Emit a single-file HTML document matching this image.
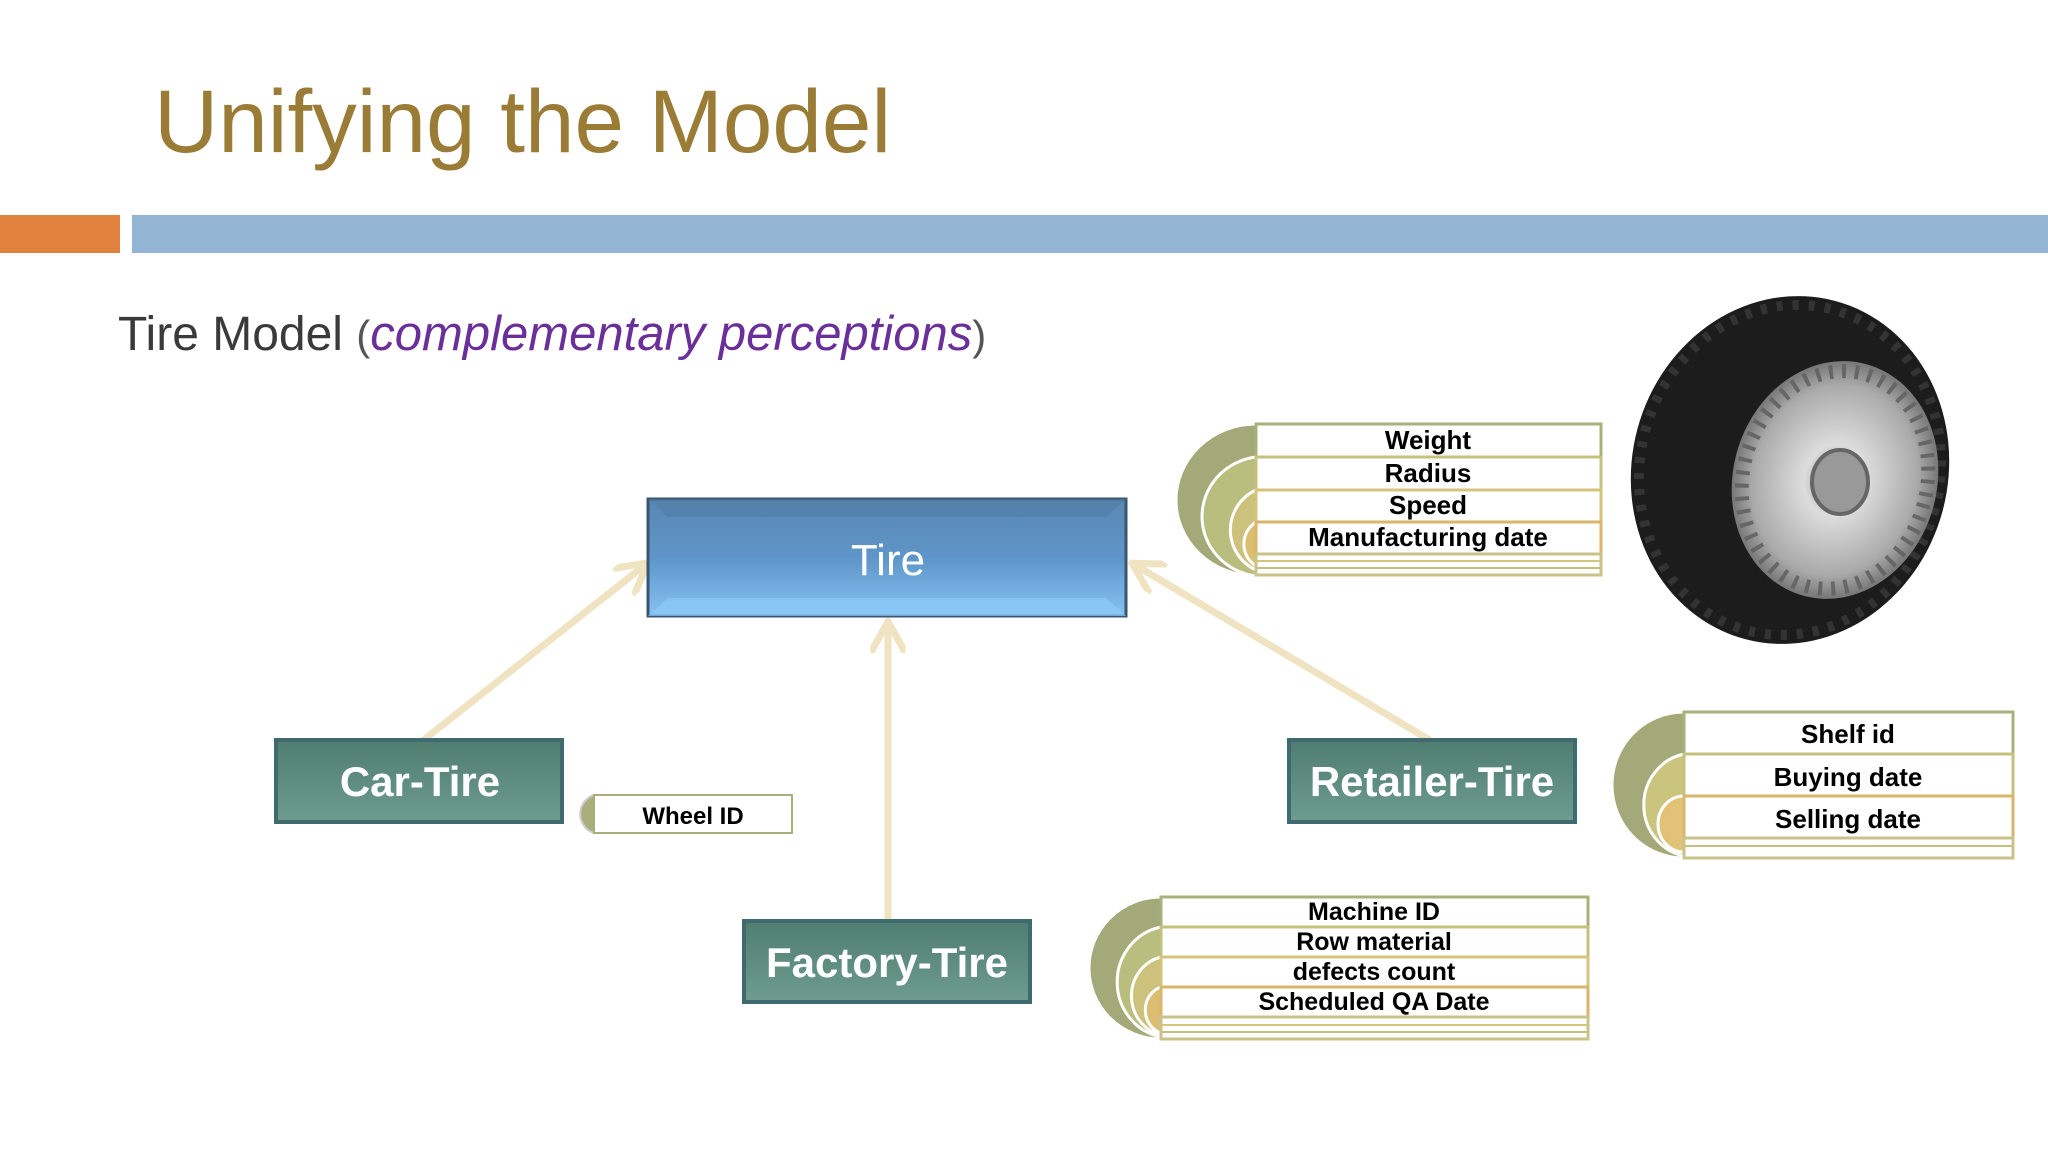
<!DOCTYPE html>
<html><head><meta charset="utf-8"><style>
html,body{margin:0;padding:0;background:#fff;}
svg{display:block;font-family:"Liberation Sans",sans-serif;}
</style></head><body>
<svg width="2048" height="1155" viewBox="0 0 2048 1155" xmlns="http://www.w3.org/2000/svg">
<defs>
<linearGradient id="tg" x1="0" y1="0" x2="0" y2="1"><stop offset="0" stop-color="#5a88b2"/><stop offset="0.5" stop-color="#5e95c8"/><stop offset="1" stop-color="#86c2f2"/></linearGradient>
<linearGradient id="gg" x1="0" y1="0" x2="0" y2="1"><stop offset="0" stop-color="#4f7d70"/><stop offset="0.5" stop-color="#5e8d80"/><stop offset="1" stop-color="#6e9d8f"/></linearGradient>
<radialGradient id="rim" cx="0.5" cy="0.5" r="0.5"><stop offset="0" stop-color="#888"/><stop offset="0.3" stop-color="#ddd"/><stop offset="0.8" stop-color="#aaa"/><stop offset="1" stop-color="#777"/></radialGradient>
<marker id="ah" viewBox="0 0 10 10" refX="8" refY="5" markerWidth="5" markerHeight="5" orient="auto"><path d="M0,0 L9,5 L0,10" fill="none" stroke="#efe3c2" stroke-width="2"/></marker>
</defs>
<text x="154" y="152" font-size="89" fill="#9a7c36">Unifying the Model</text>
<rect x="0" y="215" width="120" height="38" fill="#e0823e"/>
<rect x="132" y="215" width="1916" height="38" fill="#93b4d2"/>
<text x="118" y="350" font-size="48" fill="#3a3a3a">Tire Model <tspan fill="#555" font-size="42">(</tspan><tspan fill="#6b2f9a" font-style="italic" font-size="49">complementary perceptions</tspan><tspan fill="#555" font-size="42">)</tspan></text>

<g stroke="#efe3c2" stroke-width="7" fill="none" stroke-linecap="round">
<line x1="421" y1="742" x2="645" y2="565" marker-end="url(#ah)"/>
<line x1="888" y1="921" x2="888" y2="625" marker-end="url(#ah)"/>
<line x1="1433" y1="742" x2="1135" y2="565" marker-end="url(#ah)"/>
</g>

<rect x="648" y="499" width="478" height="117" fill="url(#tg)" stroke="#3a5670" stroke-width="3"/>
<path d="M648,499 L668,517 L1106,517 L1126,499Z" fill="#4f7da5" opacity="0.6"/>
<path d="M648,616 L668,598 L1106,598 L1126,616Z" fill="#8ccaf8" opacity="0.7"/>
<text x="888" y="575" font-size="44" fill="#fff" text-anchor="middle">Tire</text>

<g font-weight="bold" font-size="42" fill="#fff" text-anchor="middle">
<rect x="276" y="740" width="286" height="82" fill="url(#gg)" stroke="#3e6a70" stroke-width="4"/>
<text x="420" y="796">Car-Tire</text>
<rect x="744" y="921" width="286" height="81" fill="url(#gg)" stroke="#3e6a70" stroke-width="4"/>
<text x="887" y="977">Factory-Tire</text>
<rect x="1289" y="740" width="286" height="82" fill="url(#gg)" stroke="#3e6a70" stroke-width="4"/>
<text x="1432" y="796">Retailer-Tire</text>
</g>

<path d="M594,795 A20,20 0 0 0 594,833 Z" fill="#a9ae7a" stroke="#ccc" stroke-width="2"/>
<rect x="594" y="795" width="198" height="38" fill="#fff" stroke="#a9ae7a" stroke-width="2"/>
<text x="693" y="824" font-size="24" font-weight="bold" text-anchor="middle">Wheel ID</text>

<g>
<path d="M1256,424 A80,76 0 0 0 1256,576 Z" fill="#a3a978" stroke="#fff" stroke-width="3"/>
<path d="M1256,457 A62,60 0 0 0 1256,576 Z" fill="#b9bd7e" stroke="#fff" stroke-width="3"/>
<path d="M1256,490 A44,44 0 0 0 1256,570 Z" fill="#cdc27c" stroke="#fff" stroke-width="3"/>
<path d="M1256,522 A26,26 0 0 0 1256,566 Z" fill="#dbbe72" stroke="#fff" stroke-width="3"/>
<g fill="#fff" stroke-width="3">
<rect x="1256" y="424" width="345" height="33" stroke="#aab07c"/>
<rect x="1256" y="457" width="345" height="33" stroke="#c4c17e"/>
<rect x="1256" y="490" width="345" height="32" stroke="#d4c47c"/>
<rect x="1256" y="522" width="345" height="32" stroke="#d9b66a"/>
<rect x="1256" y="554" width="345" height="21" stroke="#c9c38a"/>
</g>
<line x1="1256" y1="561" x2="1601" y2="561" stroke="#d4c47c" stroke-width="2"/>
<line x1="1256" y1="568" x2="1601" y2="568" stroke="#c4c17e" stroke-width="2"/>
<g font-size="26" font-weight="bold" text-anchor="middle">
<text x="1428" y="449">Weight</text><text x="1428" y="482">Radius</text><text x="1428" y="514">Speed</text><text x="1428" y="546">Manufacturing date</text>
</g>
</g>

<g>
<path d="M1684,712 A72,73 0 0 0 1684,858 Z" fill="#a3a978" stroke="#fff" stroke-width="3"/>
<path d="M1684,754 A50,52 0 0 0 1684,856 Z" fill="#cbc47e" stroke="#fff" stroke-width="3"/>
<path d="M1684,796 A26,28 0 0 0 1684,852 Z" fill="#e2c276" stroke="#fff" stroke-width="3"/>
<g fill="#fff" stroke-width="3">
<rect x="1684" y="712" width="329" height="42" stroke="#aab07c"/>
<rect x="1684" y="754" width="329" height="42" stroke="#c4c17e"/>
<rect x="1684" y="796" width="329" height="42" stroke="#d9b66a"/>
<rect x="1684" y="838" width="329" height="20" stroke="#c9c38a"/>
</g>
<line x1="1684" y1="846" x2="2013" y2="846" stroke="#c4c17e" stroke-width="2"/>
<g font-size="26" font-weight="bold" text-anchor="middle">
<text x="1848" y="743">Shelf id</text><text x="1848" y="786">Buying date</text><text x="1848" y="828">Selling date</text>
</g>
</g>

<g>
<path d="M1161,897 A72,71 0 0 0 1161,1039 Z" fill="#a3a978" stroke="#fff" stroke-width="3"/>
<path d="M1161,927 A54,56 0 0 0 1161,1037 Z" fill="#b9bd7e" stroke="#fff" stroke-width="3"/>
<path d="M1161,957 A38,40 0 0 0 1161,1035 Z" fill="#cdc27c" stroke="#fff" stroke-width="3"/>
<path d="M1161,987 A22,24 0 0 0 1161,1033 Z" fill="#dbbe72" stroke="#fff" stroke-width="3"/>
<g fill="#fff" stroke-width="3">
<rect x="1161" y="897" width="427" height="30" stroke="#aab07c"/>
<rect x="1161" y="927" width="427" height="30" stroke="#c4c17e"/>
<rect x="1161" y="957" width="427" height="30" stroke="#d4c47c"/>
<rect x="1161" y="987" width="427" height="30" stroke="#d9b66a"/>
<rect x="1161" y="1017" width="427" height="22" stroke="#c9c38a"/>
</g>
<line x1="1161" y1="1025" x2="1588" y2="1025" stroke="#d4c47c" stroke-width="2"/>
<line x1="1161" y1="1032" x2="1588" y2="1032" stroke="#c4c17e" stroke-width="2"/>
<g font-size="25" font-weight="bold" text-anchor="middle">
<text x="1374" y="920">Machine ID</text><text x="1374" y="950">Row material</text><text x="1374" y="980">defects count</text><text x="1374" y="1010">Scheduled QA Date</text>
</g>
</g>

<g>
<ellipse cx="1790" cy="470" rx="158" ry="175" fill="#1c1c1c" transform="rotate(15 1790 470)"/>
<ellipse cx="1790" cy="470" rx="150" ry="166" fill="none" stroke="#333" stroke-width="10" stroke-dasharray="6 10" transform="rotate(15 1790 470)"/>
<ellipse cx="1835" cy="480" rx="102" ry="120" fill="url(#rim)" transform="rotate(15 1835 480)"/>
<ellipse cx="1835" cy="480" rx="92" ry="110" fill="none" stroke="#666" stroke-width="14" stroke-dasharray="4 9" transform="rotate(15 1835 480)"/>
<ellipse cx="1840" cy="482" rx="28" ry="32" fill="#999" stroke="#666" stroke-width="4"/>
</g>
</svg>
</body></html>
